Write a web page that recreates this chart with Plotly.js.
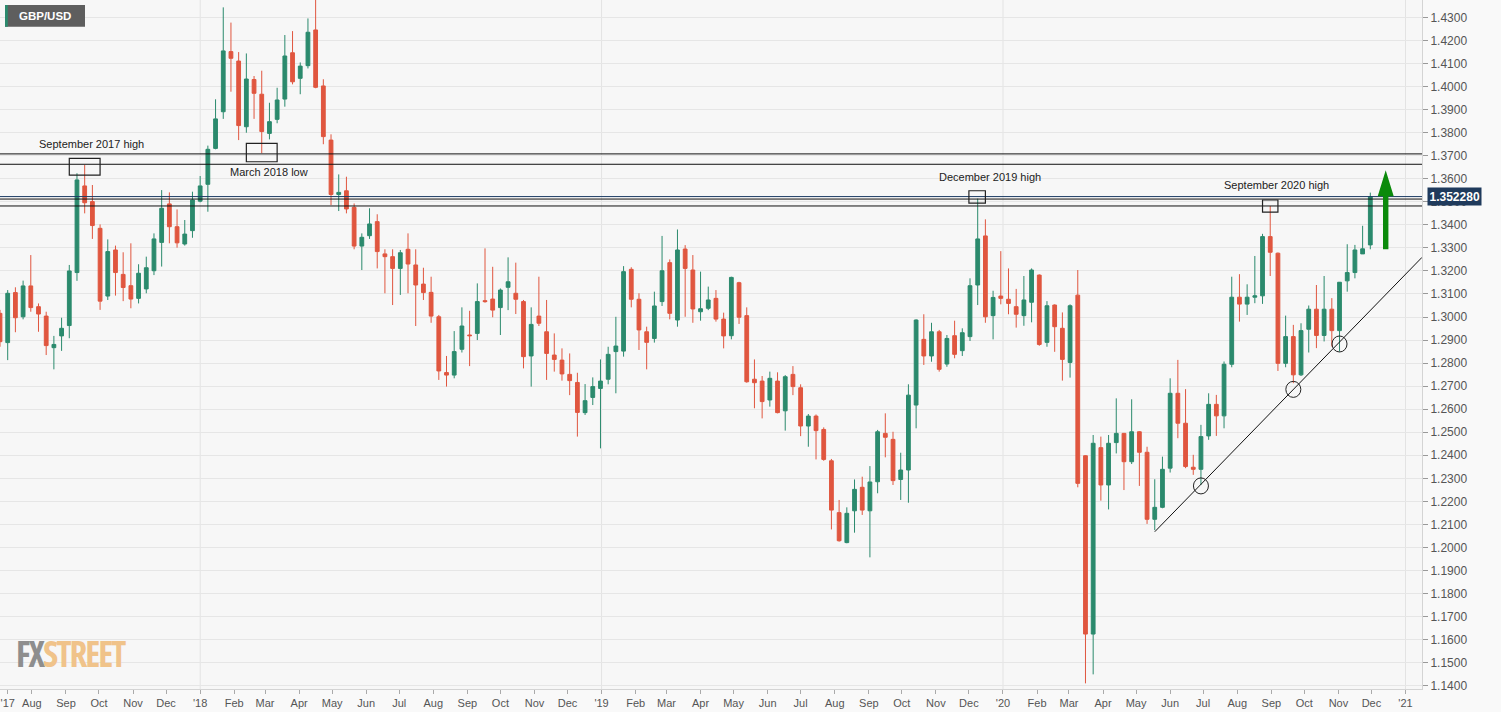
<!DOCTYPE html>
<html><head><meta charset="utf-8">
<script src="https://cdn.plot.ly/plotly-3.0.1.min.js"></script>
<style>html,body{margin:0;padding:0;background:#f9f9f9;}#chart{width:1501px;height:712px;}</style>
</head><body><div id="chart"></div>
<script>
const weeks = ['2017-07-03','2017-07-10','2017-07-17','2017-07-24','2017-07-31','2017-08-07','2017-08-14','2017-08-21','2017-08-28','2017-09-04','2017-09-11','2017-09-18','2017-09-25','2017-10-02','2017-10-09','2017-10-16','2017-10-23','2017-10-30','2017-11-06','2017-11-13','2017-11-20','2017-11-27','2017-12-04','2017-12-11','2017-12-18','2017-12-25',
'2018-01-01','2018-01-08','2018-01-15','2018-01-22','2018-01-29','2018-02-05','2018-02-12','2018-02-19','2018-02-26','2018-03-05','2018-03-12','2018-03-19','2018-03-26','2018-04-02','2018-04-09','2018-04-16','2018-04-23','2018-04-30','2018-05-07','2018-05-14','2018-05-21','2018-05-28','2018-06-04','2018-06-11','2018-06-18','2018-06-25','2018-07-02','2018-07-09','2018-07-16','2018-07-23','2018-07-30','2018-08-06','2018-08-13','2018-08-20','2018-08-27','2018-09-03','2018-09-10','2018-09-17','2018-09-24','2018-10-01','2018-10-08','2018-10-15','2018-10-22','2018-10-29','2018-11-05','2018-11-12','2018-11-19','2018-11-26','2018-12-03','2018-12-10','2018-12-17','2018-12-24','2018-12-31',
'2019-01-07','2019-01-14','2019-01-21','2019-01-28','2019-02-04','2019-02-11','2019-02-18','2019-02-25','2019-03-04','2019-03-11','2019-03-18','2019-03-25','2019-04-01','2019-04-08','2019-04-15','2019-04-22','2019-04-29','2019-05-06','2019-05-13','2019-05-20','2019-05-27','2019-06-03','2019-06-10','2019-06-17','2019-06-24','2019-07-01','2019-07-08','2019-07-15','2019-07-22','2019-07-29','2019-08-05','2019-08-12','2019-08-19','2019-08-26','2019-09-02','2019-09-09','2019-09-16','2019-09-23','2019-09-30','2019-10-07','2019-10-14','2019-10-21','2019-10-28','2019-11-04','2019-11-11','2019-11-18','2019-11-25','2019-12-02','2019-12-09','2019-12-16','2019-12-23','2019-12-30',
'2020-01-06','2020-01-13','2020-01-20','2020-01-27','2020-02-03','2020-02-10','2020-02-17','2020-02-24','2020-03-02','2020-03-09','2020-03-16','2020-03-23','2020-03-30','2020-04-06','2020-04-13','2020-04-20','2020-04-27','2020-05-04','2020-05-11','2020-05-18','2020-05-25','2020-06-01','2020-06-08','2020-06-15','2020-06-22','2020-06-29','2020-07-06','2020-07-13','2020-07-20','2020-07-27','2020-08-03','2020-08-10','2020-08-17','2020-08-24','2020-08-31','2020-09-07','2020-09-14','2020-09-21','2020-09-28','2020-10-05','2020-10-12','2020-10-19','2020-10-26','2020-11-02','2020-11-09','2020-11-16','2020-11-23','2020-11-30'];

const openP = [1.3016,1.2889,1.3106,1.3001,1.3135,1.3045,1.3004,1.2867,1.2918,1.2963,
1.3193,1.3569,1.3501,1.3385,1.3091,1.3291,1.3185,1.3136,1.3081,1.3122,
1.3201,1.3324,1.3491,1.3392,1.3317,1.3375,1.3503,1.3576,1.3732,1.3891,
1.4152,1.4111,1.3826,1.4031,1.3967,1.3797,1.3858,1.3946,1.4147,1.4036,
1.4091,1.4246,1.4003,1.3768,1.3532,1.3548,1.3476,1.3308,1.3353,1.3414,
1.3274,1.3262,1.3211,1.3294,1.3226,1.3143,1.3107,1.3001,1.2759,1.2748,
1.2860,1.2922,1.2929,1.3071,1.3078,1.3041,1.3129,1.3103,1.3067,1.2831,
1.3004,1.2936,1.2835,1.2813,1.2751,1.2716,1.2585,1.2651,1.2690,1.2730,
1.2850,1.2852,1.3207,1.3077,1.2936,1.2907,1.3067,1.3236,1.2987,1.3295,
1.3204,1.3023,1.3038,1.3081,1.2991,1.2919,1.3149,1.3006,1.2730,1.2722,
1.2640,1.2722,1.2593,1.2751,1.2693,1.2527,1.2570,1.2512,1.2376,1.2151,
1.2021,1.2159,1.2261,1.2159,1.2285,1.2495,1.2469,1.2295,1.2336,1.2618,
1.2903,1.2831,1.2936,1.2796,1.2919,1.2854,1.2915,1.3139,1.3352,1.3006,
1.3091,1.3077,1.3045,1.3006,1.3064,1.3182,1.2890,1.3052,1.2951,1.2803,
1.3095,1.2398,1.1624,1.2433,1.2271,1.2455,1.2495,1.2372,1.2502,1.2413,
1.2122,1.2174,1.2344,1.2669,1.2539,1.2348,1.2339,1.2484,1.2621,1.2571,
1.2795,1.3086,1.3056,1.3086,1.3092,1.3349,1.3277,1.2799,1.2915,1.2749,
1.2947,1.3034,1.2920,1.3034,1.2941,1.3157,1.3193,1.3274,1.3313];

const highP = [1.3031,1.3117,1.3129,1.3158,1.3269,1.3059,1.3023,1.2918,1.2997,1.3226,
1.3624,1.3660,1.3573,1.3402,1.3337,1.3310,1.3281,1.3320,1.3229,1.3262,
1.3363,1.3551,1.3541,1.3467,1.3421,1.3544,1.3612,1.3744,1.3945,1.4344,
1.4278,1.4150,1.4144,1.4046,1.4069,1.3930,1.3995,1.4224,1.4241,1.4105,
1.4296,1.4376,1.4032,1.3793,1.3619,1.3609,1.3493,1.3363,1.3472,1.3446,
1.3294,1.3294,1.3291,1.3363,1.3294,1.3214,1.3175,1.3009,1.2831,1.2939,
1.3042,1.3027,1.3146,1.3298,1.3218,1.3124,1.3259,1.3236,1.3074,1.3042,
1.3175,1.3074,1.2929,1.2864,1.2842,1.2758,1.2709,1.2738,1.2816,1.2871,
1.3001,1.3221,1.3216,1.3103,1.2958,1.3110,1.3352,1.3250,1.3380,1.3312,
1.3269,1.3197,1.3132,1.3117,1.3019,1.3175,1.3153,1.3042,1.2816,1.2744,
1.2763,1.2760,1.2748,1.2787,1.2708,1.2579,1.2577,1.2521,1.2384,1.2206,
1.2174,1.2295,1.2307,1.2353,1.2510,1.2582,1.2502,1.2411,1.2708,1.2990,
1.3012,1.2975,1.2944,1.2922,1.2984,1.2951,1.3168,1.3514,1.3424,1.3114,
1.3286,1.3211,1.3122,1.3178,1.3211,1.3185,1.3069,1.3055,1.3020,1.3055,
1.3204,1.2400,1.2488,1.2481,1.2488,1.2647,1.2497,1.2643,1.2505,1.2437,
1.2296,1.2394,1.2734,1.2814,1.2687,1.2402,1.2532,1.2669,1.2662,1.2807,
1.3175,1.3186,1.3142,1.3265,1.3361,1.3482,1.3280,1.3006,1.2966,1.2973,
1.3050,1.3139,1.3178,1.3082,1.3152,1.3316,1.3313,1.3396,1.3540];

const lowP = [1.2871,1.2813,1.2934,1.2990,1.3023,1.2936,1.2835,1.2773,1.2853,1.2908,
1.3157,1.3450,1.3339,1.3031,1.3074,1.3093,1.3069,1.3038,1.3059,1.3103,
1.3182,1.3219,1.3320,1.3301,1.3310,1.3344,1.3498,1.3457,1.3728,1.3860,
1.3978,1.3768,1.3800,1.3860,1.3711,1.3771,1.3841,1.3913,1.4010,1.3967,
1.4079,1.3993,1.3750,1.3486,1.3460,1.3450,1.3294,1.3204,1.3339,1.3211,
1.3103,1.3052,1.3096,1.3103,1.2961,1.3074,1.2975,1.2727,1.2698,1.2734,
1.2846,1.2787,1.2900,1.3062,1.2999,1.2922,1.3030,1.3013,1.2777,1.2698,
1.2961,1.2727,1.2763,1.2724,1.2661,1.2481,1.2575,1.2618,1.2430,1.2708,
1.2669,1.2828,1.3042,1.2857,1.2773,1.2889,1.3048,1.2990,1.2958,1.3001,
1.2975,1.2984,1.3030,1.2980,1.2864,1.2903,1.2970,1.2715,1.2604,1.2560,
1.2611,1.2582,1.2507,1.2661,1.2483,1.2437,1.2382,1.2376,1.2078,1.2025,
1.2018,1.2064,1.2141,1.1957,1.2235,1.2391,1.2271,1.2206,1.2194,1.2517,
1.2792,1.2806,1.2763,1.2784,1.2821,1.2831,1.2896,1.3052,1.2975,1.2903,
1.3055,1.3012,1.2954,1.2962,1.2977,1.2875,1.2871,1.2849,1.2724,1.2737,
1.2261,1.1410,1.1449,1.2203,1.2165,1.2408,1.2249,1.2362,1.2267,1.2102,
1.2075,1.2170,1.2325,1.2474,1.2344,1.2315,1.2271,1.2467,1.2484,1.2517,
1.2782,1.2980,1.3009,1.3060,1.3057,1.3178,1.2766,1.2782,1.2713,1.2744,
1.2846,1.2865,1.2894,1.2872,1.2850,1.3110,1.3168,1.3274,1.3294];

const closeP = [1.2893,1.3103,1.2997,1.3135,1.3041,1.3013,1.2876,1.2881,1.2951,1.3200,
1.3595,1.3496,1.3397,1.3069,1.3284,1.3193,1.3128,1.3078,1.3190,1.3214,
1.3339,1.3472,1.3392,1.3322,1.3360,1.3508,1.3569,1.3728,1.3860,1.4155,
1.4123,1.3831,1.4033,1.3971,1.3805,1.3848,1.3942,1.4133,1.4021,1.4089,
1.4236,1.3997,1.3783,1.3532,1.3541,1.3469,1.3308,1.3346,1.3404,1.3284,
1.3262,1.3211,1.3279,1.3230,1.3139,1.3106,1.3004,1.2766,1.2748,1.2850,
1.2961,1.2919,1.3067,1.3067,1.3030,1.3117,1.3153,1.3077,1.2828,1.2968,
1.2973,1.2842,1.2816,1.2753,1.2724,1.2586,1.2637,1.2698,1.2722,1.2838,
1.2874,1.3197,1.3077,1.2944,1.2890,1.3048,1.3201,1.3016,1.3291,1.3211,
1.3035,1.3036,1.3074,1.2991,1.2918,1.3172,1.2999,1.2719,1.2715,1.2633,
1.2734,1.2585,1.2741,1.2698,1.2527,1.2570,1.2507,1.2382,1.2162,1.2029,
1.2148,1.2252,1.2162,1.2284,1.2502,1.2478,1.2290,1.2336,1.2661,1.2987,
1.2831,1.2936,1.2773,1.2907,1.2838,1.2932,1.3136,1.3339,1.3001,1.3085,
1.3081,1.3059,1.3012,1.3074,1.3204,1.2881,1.3049,1.2958,1.2816,1.3049,
1.2278,1.1624,1.2452,1.2271,1.2452,1.2495,1.2372,1.2502,1.2413,1.2122,
1.2174,1.2339,1.2669,1.2539,1.2351,1.2339,1.2481,1.2621,1.2571,1.2795,
1.3086,1.3056,1.3086,1.3092,1.3349,1.3281,1.2799,1.2915,1.2749,1.2941,
1.3034,1.2920,1.3034,1.2941,1.3151,1.3193,1.3291,1.3296,1.35228];

const tickDates = ['2017-07-10','2017-08-01','2017-09-01','2017-10-01','2017-11-01','2017-12-01',
'2018-01-01','2018-02-01','2018-03-01','2018-04-01','2018-05-01','2018-06-01','2018-07-01','2018-08-01','2018-09-01','2018-10-01','2018-11-01','2018-12-01',
'2019-01-01','2019-02-01','2019-03-01','2019-04-01','2019-05-01','2019-06-01','2019-07-01','2019-08-01','2019-09-01','2019-10-01','2019-11-01','2019-12-01',
'2020-01-01','2020-02-01','2020-03-01','2020-04-01','2020-05-01','2020-06-01','2020-07-01','2020-08-01','2020-09-01','2020-10-01','2020-11-01','2020-12-01','2021-01-01'];
const tickLabels = ["'17",'Aug','Sep','Oct','Nov','Dec',
"'18",'Feb','Mar','Apr','May','Jun','Jul','Aug','Sep','Oct','Nov','Dec',
"'19",'Feb','Mar','Apr','May','Jun','Jul','Aug','Sep','Oct','Nov','Dec',
"'20",'Feb','Mar','Apr','May','Jun','Jul','Aug','Sep','Oct','Nov','Dec',"'21"];

const yearLines = ['2018-01-01','2019-01-01','2020-01-01','2021-01-01'];
const levelLines = [1.3708, 1.3663, 1.3512, 1.3482];
const lastPrice = 1.35228;

// annotation boxes: [x0 date, x1 date, y0 price, y1 price]
const boxStarts = ['2017-09-04','2018-02-12','2019-12-01','2020-08-24'];
const boxEnds   = ['2017-10-02','2018-03-12','2019-12-16','2020-09-07'];
const boxTops   = [1.3689, 1.3754, 1.3548, 1.3508];
const boxBottoms= [1.3616, 1.3674, 1.3494, 1.3455];
const noteTexts = ['September 2017 high','March 2018 low','December 2019 high','September 2020 high'];
const noteDates = ['2017-09-24','2018-03-05','2019-12-20','2020-09-06'];
const notePrices= [1.3751, 1.3629, 1.3608, 1.3573];

const trendDates = ['2020-05-18','2021-01-16'];
const trendPrices = [1.2068, 1.3259];
const touchDates = ['2020-06-29','2020-09-21','2020-11-02'];
const touchPrices = [1.2267, 1.2686, 1.2883];

const UP = '#2b8a6d', DOWN = '#e0563f';

const trace = {
  type:'candlestick', x:weeks, open:openP, high:highP, low:lowP, close:closeP,
  increasing:{line:{color:UP,width:1}, fillcolor:UP},
  decreasing:{line:{color:DOWN,width:1}, fillcolor:DOWN},
  whiskerwidth:0, hoverinfo:'skip', showlegend:false
};

const shapes = [];
yearLines.forEach(d => shapes.push({type:'line', xref:'x', yref:'paper', x0:d, x1:d, y0:0, y1:1, line:{color:'#e3e3e3', width:1}, layer:'below'}));
levelLines.forEach(p => shapes.push({type:'line', xref:'paper', yref:'y', x0:0, x1:1, y0:p, y1:p, line:{color:'#111', width:1}}));
shapes.push({type:'line', xref:'paper', yref:'y', x0:0, x1:1, y0:lastPrice, y1:lastPrice, line:{color:'#1d3c64', width:1}});
boxStarts.forEach((d,i) => shapes.push({type:'rect', xref:'x', yref:'y', x0:d, x1:boxEnds[i], y0:boxBottoms[i], y1:boxTops[i], line:{color:'#222', width:1.2}, fillcolor:'rgba(0,0,0,0)'}));
shapes.push({type:'line', xref:'x', yref:'y', x0:trendDates[0], x1:trendDates[1], y0:trendPrices[0], y1:trendPrices[1], line:{color:'#111', width:1}});
touchDates.forEach((d,i) => shapes.push({type:'circle', xref:'x', yref:'y', xsizemode:'pixel', ysizemode:'pixel', xanchor:d, yanchor:touchPrices[i], x0:-7.5, x1:7.5, y0:-8, y1:8, line:{color:'#222', width:1}}));
shapes.push({type:'path', xref:'x', yref:'y', xsizemode:'pixel', ysizemode:'pixel', xanchor:'2020-12-14', yanchor:1.3294,
  path:'M-2.7,0 L2.7,0 L2.7,53 L8,53 L0,79 L-8,53 L-2.7,53 Z', fillcolor:'#0b8a0b', line:{width:0}});
// GBP/USD badge
shapes.push({type:'rect', xref:'paper', yref:'paper', x0:5/1422, x1:85/1422, y0:1-26.7/689, y1:1-5/689, fillcolor:'#5e5e5e', line:{width:0}});
shapes.push({type:'rect', xref:'paper', yref:'paper', x0:5/1422, x1:7.8/1422, y0:1-26.7/689, y1:1-5/689, fillcolor:UP, line:{width:0}});

const annotations = [];
noteTexts.forEach((t,i) => annotations.push({text:t, xref:'x', yref:'y', x:noteDates[i], y:notePrices[i], showarrow:false, font:{family:'Liberation Sans, Arial, sans-serif', size:11, color:'#222'}}));
annotations.push({text:'<b>GBP/USD</b>', xref:'paper', yref:'paper', x:16.5/1422, y:1-16/689, xanchor:'left', yanchor:'middle', showarrow:false, font:{family:'Liberation Sans, Arial, sans-serif', size:11.5, color:'#ffffff'}});
annotations.push({text:'<b>'+lastPrice.toFixed(6)+'</b>', xref:'paper', yref:'y', x:1, y:lastPrice, xanchor:'left', yanchor:'middle', xshift:5, showarrow:false, bgcolor:'#1f3a5c', borderpad:1.5, font:{family:'Liberation Sans, Arial, sans-serif', size:12, color:'#ffffff'}});
annotations.push({text:"<b><span style='color:#8e8e8e;font-stretch:75%;letter-spacing:-2px'>FX</span><span style='color:#f0c38a;font-stretch:75%;letter-spacing:-2px'>STREET</span></b>", xref:'paper', yref:'paper', x:14/1422, y:1-653.5/689, xanchor:'left', yanchor:'middle', showarrow:false, font:{family:'Open Sans, Liberation Sans, sans-serif', size:35}});

const layout = {
  width:1501, height:712,
  margin:{l:0, r:79, t:0, b:23},
  paper_bgcolor:'#f9f9f9', plot_bgcolor:'#f7f7f7',
  showlegend:false, hovermode:false, dragmode:false,
  font:{family:'Liberation Sans, Arial, sans-serif', size:11, color:'#555'},
  xaxis:{type:'date', range:['2017-07-03','2021-01-16'], rangeslider:{visible:false}, showgrid:false, zeroline:false,
    tickmode:'array', tickvals:tickDates, ticktext:tickLabels, ticks:'outside', ticklen:4, tickcolor:'#aaa', ticklabeloverflow:'allow',
    showline:true, linecolor:'#d4d4d4', tickfont:{size:11, color:'#555'}, fixedrange:true},
  yaxis:{side:'right', range:[1.13855, 1.4376], tick0:1.14, dtick:0.01, tickformat:'.4f',
    showgrid:true, gridcolor:'#e6e6e6', gridwidth:1, zeroline:false, ticks:'outside', ticklen:5, tickcolor:'#999',
    showline:true, linecolor:'#d4d4d4', tickfont:{size:12, color:'#555'}, fixedrange:true},
  shapes:shapes, annotations:annotations
};

Plotly.newPlot('chart', [trace], layout, {displayModeBar:false, staticPlot:true});
</script></body></html>
